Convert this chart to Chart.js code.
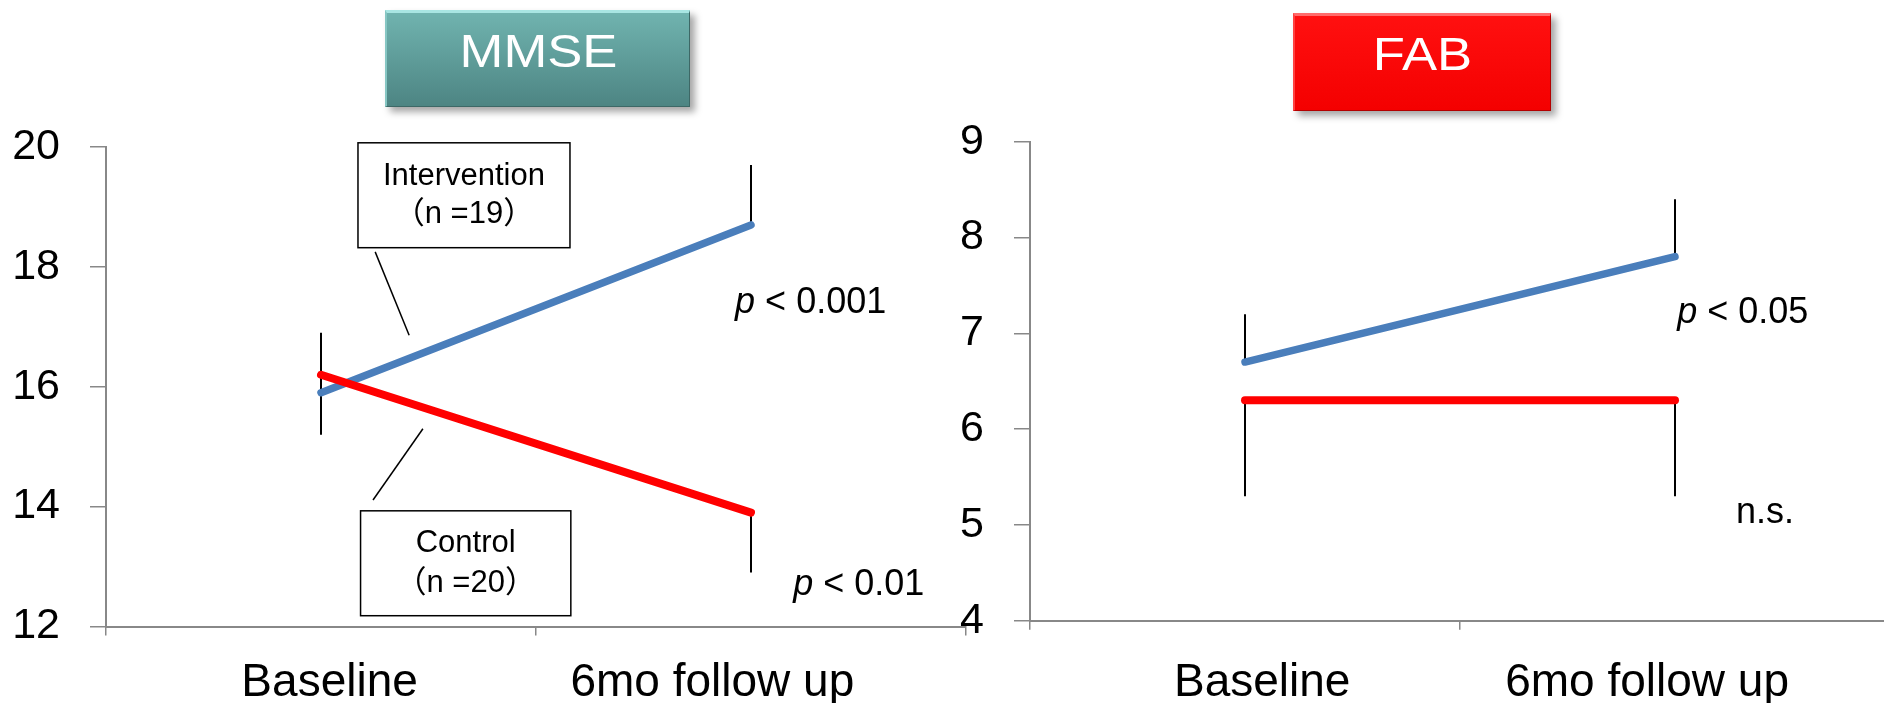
<!DOCTYPE html>
<html>
<head>
<meta charset="utf-8">
<script src="https://cdn.jsdelivr.net/npm/chart.js@4.4.1/dist/chart.umd.min.js"></script>
<style>
  html, body { margin: 0; padding: 0; background: #fff; width: 1884px; height: 703px; overflow: hidden; position: relative; }
  canvas { position: absolute; top: 0; }
  #leftChart { left: 0; }
  #rightChart { left: 940px; }
  .tag {
    position: absolute; color: #fff; font-family: 'Liberation Sans', Arial, sans-serif;
    font-size: 47px; text-align: center;
    box-sizing: border-box; line-height: 76px; box-shadow: 5px 5px 7px rgba(0,0,0,0.35);
  }
  .tag span { display: inline-block; transform: scaleX(1.12); }
  #mmseTag {
    left: 385px; top: 10px; width: 305px; height: 97px;
    background: linear-gradient(#70b3af, #4d8583);
    border: 1px solid #3d6866; border-top: 3px solid #a9e6e3; border-left: 2px solid #86c6c3;
  }
  #fabTag {
    left: 1293px; top: 13px; width: 258px; height: 98px;
    background: linear-gradient(#ff1010, #f40000);
    border: 1px solid #b30000; border-top: 3px solid #ff6a6a; border-left: 2px solid #ff4040;
  }
</style>
</head>
<body>
<canvas id="leftChart" width="970" height="703"></canvas>
<canvas id="rightChart" width="950" height="703"></canvas>
<div class="tag" id="mmseTag"><span>MMSE</span></div>
<div class="tag" id="fabTag"><span>FAB</span></div>
<script>
const categories = ['Baseline', '6mo follow up'];

const mmseIntervention = [15.9, 18.7];
const mmseInterventionErr = [1.0, 1.0];
const mmseControl = [16.2, 13.9];
const mmseControlErr = [1.0, 1.0];
const mmseTicks = [12, 14, 16, 18, 20];

const fabIntervention = [6.7, 7.8];
const fabInterventionErr = [0.5, 0.6];
const fabControl = [6.3, 6.3];
const fabControlErr = [1.0, 1.0];
const fabTicks = [4, 5, 6, 7, 8, 9];

Chart.defaults.font.family = "'Liberation Sans', Arial, sans-serif";
Chart.defaults.color = '#000';

const BLUE = '#4a7ebb';
const RED = '#ff0000';
const AXIS = '#888888';

// one-sided SD bars, drawn under the lines
const errorBars = {
  id: 'errorBars',
  beforeDatasetsDraw(chart) {
    const ctx = chart.ctx;
    const ys = chart.scales.y;
    ctx.save();
    ctx.strokeStyle = '#000';
    ctx.lineWidth = 2;
    chart.data.datasets.forEach((ds, i) => {
      chart.getDatasetMeta(i).data.forEach((pt, j) => {
        const end = ds.data[j] + ds.errDir * ds.err[j];
        ctx.beginPath();
        ctx.moveTo(pt.x, pt.y);
        ctx.lineTo(pt.x, ys.getPixelForValue(end));
        ctx.stroke();
      });
    });
    ctx.restore();
  }
};

// labels, boxes and leader lines, placed in data units (x = category index)
function notesPlugin(notes) {
  return {
    id: 'notes',
    afterDatasetsDraw(chart) {
      const ctx = chart.ctx;
      const xs = chart.scales.x;
      const px = v => xs.getPixelForValue(v);
      const py = v => chart.scales.y.getPixelForValue(v);
      ctx.save();

      // category labels (the original sits them a little off-centre)
      ctx.fillStyle = '#000';
      ctx.font = "46px 'Liberation Sans', Arial, sans-serif";
      ctx.textAlign = 'center';
      ctx.textBaseline = 'alphabetic';
      categories.forEach((c, i) => {
        ctx.fillText(c, px(i + notes.labelShift[i]), xs.bottom - 7);
      });

      (notes.leaders || []).forEach(l => {
        ctx.strokeStyle = '#000';
        ctx.lineWidth = 1.5;
        ctx.beginPath();
        ctx.moveTo(px(l[0]), py(l[1]));
        ctx.lineTo(px(l[2]), py(l[3]));
        ctx.stroke();
      });
      (notes.boxes || []).forEach(b => {
        const x0 = px(b.x0), x1 = px(b.x1), y0 = py(b.y0), y1 = py(b.y1);
        ctx.fillStyle = '#fff';
        ctx.fillRect(x0, y0, x1 - x0, y1 - y0);
        ctx.strokeStyle = '#000';
        ctx.lineWidth = 1.5;
        ctx.strokeRect(x0, y0, x1 - x0, y1 - y0);
        ctx.fillStyle = '#000';
        ctx.font = "31px 'Liberation Sans', 'Noto Sans CJK JP', sans-serif";
        ctx.textAlign = 'center';
        ctx.textBaseline = 'alphabetic';
        b.lines.forEach((t, k) => ctx.fillText(t, (x0 + x1) / 2, py(b.baselines[k])));
      });
      (notes.texts || []).forEach(t => {
        let x = px(t.x);
        const y = py(t.y);
        ctx.fillStyle = '#000';
        ctx.textAlign = 'left';
        ctx.textBaseline = 'alphabetic';
        if (t.italic) {
          ctx.font = "italic 36px 'Liberation Sans', Arial, sans-serif";
          ctx.fillText(t.italic, x, y);
          x += ctx.measureText(t.italic).width;
        }
        ctx.font = "36px 'Liberation Sans', Arial, sans-serif";
        ctx.fillText(t.text, x, y);
      });
      ctx.restore();
    }
  };
}

function makeChart(id, series, ticks, yWidth, top, xHeight, padRight, notes) {
  return new Chart(document.getElementById(id), {
    type: 'line',
    data: {
      labels: categories,
      datasets: [
        {
          label: 'Control', data: series.control, err: series.controlErr, errDir: -1,
          borderColor: RED, borderWidth: 8, order: 0
        },
        {
          label: 'Intervention', data: series.intervention, err: series.interventionErr, errDir: 1,
          borderColor: BLUE, borderWidth: 7.5, order: 1
        }
      ]
    },
    options: {
      responsive: false,
      animation: false,
      layout: { padding: { top: top, right: padRight, bottom: 0, left: 0 } },
      elements: {
        line: { tension: 0, borderCapStyle: 'round', borderJoinStyle: 'round' },
        point: { radius: 0, hoverRadius: 0 }
      },
      plugins: { legend: { display: false }, tooltip: { enabled: false } },
      scales: {
        x: {
          offset: true,
          grid: { offset: true, drawOnChartArea: false, tickLength: 9, color: AXIS, lineWidth: 1.5 },
          border: { color: AXIS, width: 2 },
          ticks: { display: false },
          afterFit(s) { s.height = xHeight; }
        },
        y: {
          min: ticks[0],
          max: ticks[ticks.length - 1],
          grid: { drawOnChartArea: false, tickLength: 16, color: AXIS, lineWidth: 1.5 },
          border: { color: AXIS, width: 2 },
          ticks: { stepSize: ticks[1] - ticks[0], font: { size: 43 }, color: '#000', padding: 30 },
          afterFit(s) { s.width = yWidth; }
        }
      }
    },
    plugins: [errorBars, notesPlugin(notes)]
  });
}

makeChart('leftChart',
  { intervention: mmseIntervention, interventionErr: mmseInterventionErr,
    control: mmseControl, controlErr: mmseControlErr },
  mmseTicks, 106, 147, 76.5, 4,
  {
    labelShift: [0.02, -0.09],
    boxes: [
      { x0: 0.086, x1: 0.579, y0: 20.07, y1: 18.32, lines: ['Intervention', '（n =19）'], baselines: [19.37, 18.74] },
      { x0: 0.092, x1: 0.581, y0: 13.93, y1: 12.18, lines: ['Control', '（n =20）'], baselines: [13.25, 12.58] }
    ],
    leaders: [[0.126, 18.25, 0.205, 16.86], [0.237, 15.30, 0.121, 14.11]],
    texts: [
      { x: 0.963, y: 17.23, italic: 'p', text: ' < 0.001' },
      { x: 1.098, y: 12.53, italic: 'p', text: ' < 0.01' }
    ]
  });

makeChart('rightChart',
  { intervention: fabIntervention, interventionErr: fabInterventionErr,
    control: fabControl, controlErr: fabControlErr },
  fabTicks, 90, 141.7, 82.3, 0,
  {
    labelShift: [0.04, -0.065],
    texts: [
      { x: 1.005, y: 7.11, italic: 'p', text: ' < 0.05' },
      { x: 1.142, y: 5.02, text: 'n.s.' }
    ]
  });
</script>
</body>
</html>
